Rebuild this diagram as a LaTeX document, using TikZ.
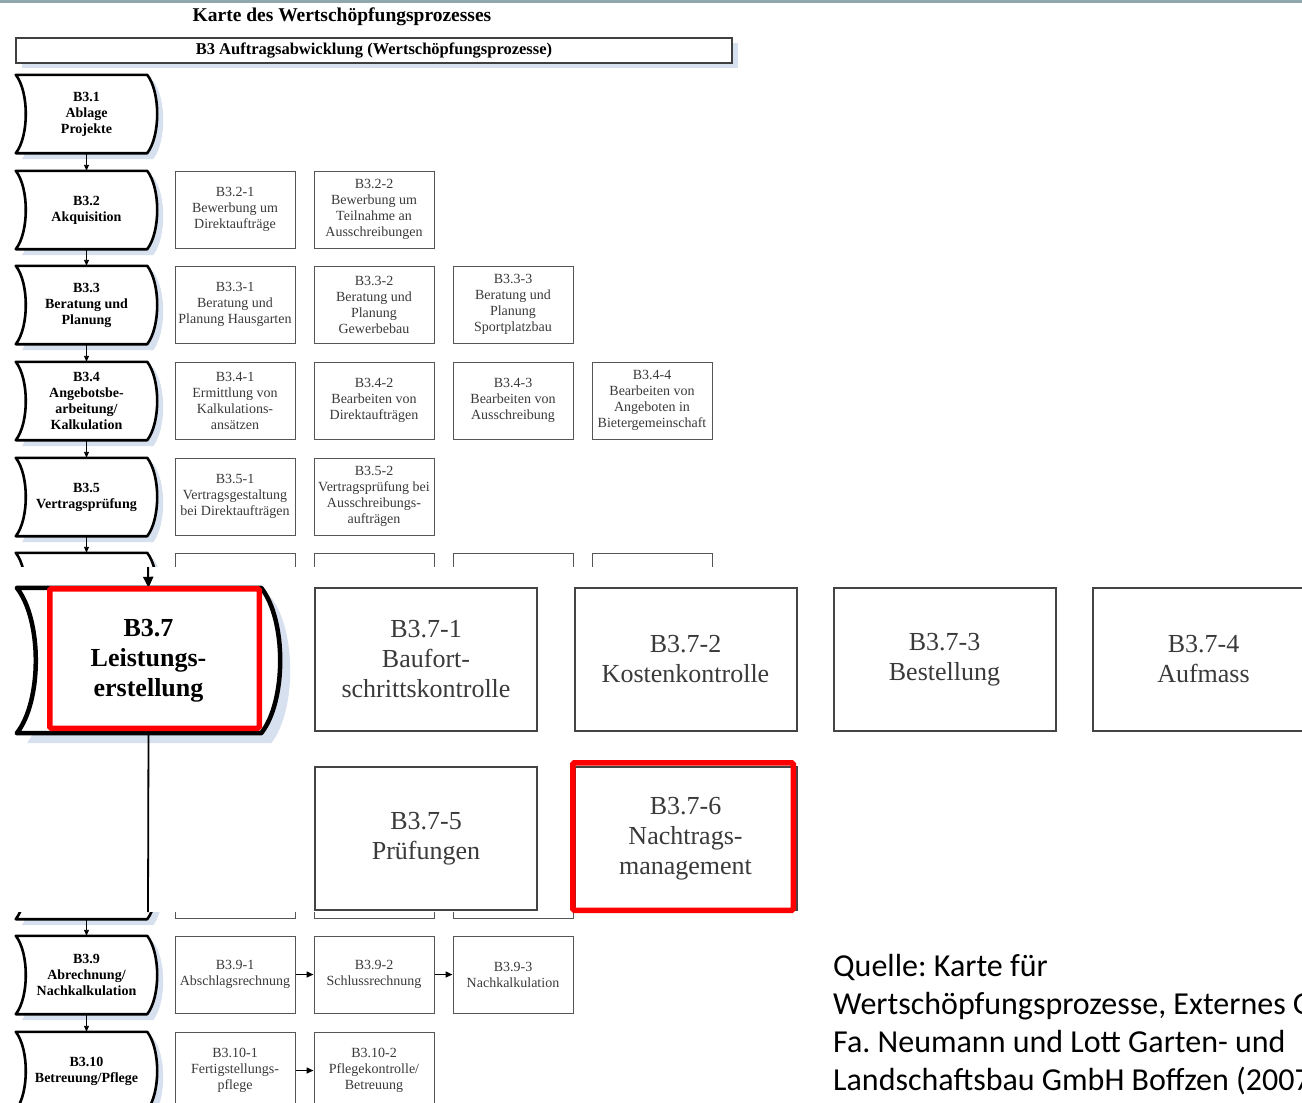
\documentclass[tikz,border=0pt]{standalone}
\usepackage{fontspec}
\setmainfont{Liberation Serif}
\newfontfamily\srcfont{Carlito}
\usetikzlibrary{arrows.meta,calc}
\frenchspacing

\definecolor{shadowblue}{HTML}{D6E0EF}
\definecolor{subgray}{HTML}{555555}
\definecolor{subtext}{HTML}{3A3A3A}
\definecolor{topbar}{HTML}{8EA8AC}
\definecolor{marker}{HTML}{FF0000}

% outline of a process step: straight top and bottom, both sides bowed to the right
\newcommand\procpathof[2]{(#1.north west) -- ($(#1.north east)+(-#2,0)$)
  .. controls ($(#1.north east)!0.22!(#1.south east)+(#2/3,0)$) and ($(#1.north east)!0.78!(#1.south east)+(#2/3,0)$) .. ($(#1.south east)+(-#2,0)$)
  -- (#1.south west)
  .. controls ($(#1.south west)!0.22!(#1.north west)+(4*#2/3,0)$) and ($(#1.south west)!0.78!(#1.north west)+(4*#2/3,0)$) .. cycle}
% shadow + outline of a process step node
\newcommand\procoutline[4]{%
  \fill[shadowblue, transform canvas={shift={(#4,#4)}}] \procpathof{#1}{#2};
  \filldraw[fill=white, draw=black, line width=#3, line join=round] \procpathof{#1}{#2};}

\tikzset{
  proc/.style={minimum width=141, minimum height=78, inner sep=0, align=center,
    font=\fontsize{14}{16}\selectfont\bfseries},
  sub/.style={draw=subgray, fill=white, line width=1, minimum width=120, minimum height=77,
    inner sep=0, align=center, text=subtext, font=\fontsize{14}{16}\selectfont},
  flow/.style={-{Triangle[length=6,width=5]}, line width=0.9},
  hflow/.style={-{Triangle[length=7,width=6]}, line width=1.5},
  zproc/.style={minimum width=263, minimum height=145, inner sep=0, align=center,
    font=\fontsize{26}{30}\selectfont\bfseries},
  zsub/.style={draw=subgray!80!black, fill=white, line width=2, minimum width=222, minimum height=143,
    inner sep=0, align=center, text=subtext, font=\fontsize{26}{30}\selectfont},
  zflow/.style={-{Triangle[length=11,width=10]}, line width=2},
  hl/.style={draw=marker, line width=5.5, rounded corners=1.5, inner sep=0},
}

\begin{document}
\begin{tikzpicture}[x=1pt,y=-1pt]
\useasboundingbox (0,0) rectangle (1302,1103);
\clip (0,0) rectangle (1302,1103);
\fill[white] (0,0) rectangle (1302,1103);
\fill[topbar] (0,0) rectangle (1302,2.5);

% heading
\node[font=\fontsize{19.5}{22}\selectfont\bfseries] (title) at (342,17) {Karte des Wertschöpfungsprozesses};
\fill[shadowblue] (22,43) rectangle (738,68);
\node[draw=black!75, fill=white, line width=1.2, minimum width=716, minimum height=25, inner sep=0,
  font=\fontsize{16.5}{18}\selectfont\bfseries] (head) at (374,50.5) {B3 Auftragsabwicklung (Wertschöpfungsprozesse)};

% process steps (left column)
\node[proc] (p1) at (86.5,114) {};
\node[proc] (p2) at (86.5,210) {};
\node[proc] (p3) at (86.5,305) {};
\node[proc] (p4) at (86.5,401) {};
\node[proc] (p5) at (86.5,497) {};
\node[proc] (p6) at (86.5,592) {};
\node[proc] (p8) at (86.5,880) {};
\node[proc] (p9) at (86.5,975) {};
\node[proc] (p10) at (86.5,1071) {};
\foreach \n in {p1,p2,p3,p4,p5,p6,p8,p9,p10} {\procoutline{\n}{10}{2.6}{6}}
\node[proc] (t1) at (p1) {B3.1\\Ablage\\Projekte};
\node[proc] (t2) at (p2) {B3.2\\Akquisition};
\node[proc] (t3) at (p3) {B3.3\\Beratung und\\Planung};
\node[proc] (t4) at (p4) {B3.4\\Angebotsbe-\\arbeitung/\\Kalkulation};
\node[proc] (t5) at (p5) {B3.5\\Vertragsprüfung};
\node[proc] (t9) at (p9) {B3.9\\Abrechnung/\\Nachkalkulation};
\node[proc] (t10) at (p10) {B3.10\\Betreuung/Pflege};

\draw[flow] (p1.south) -- (p2.north);
\draw[flow] (p2.south) -- (p3.north);
\draw[flow] (p3.south) -- (p4.north);
\draw[flow] (p4.south) -- (p5.north);
\draw[flow] (p5.south) -- (p6.north);
\draw[flow] (p8.south) -- (p9.north);
\draw[flow] (p9.south) -- (p10.north);

% sub-processes
\node[sub] (s21) at (235,209.5) {B3.2-1\\Bewerbung um\\Direktaufträge};
\node[sub] (s22) at (374,209.5) {B3.2-2\\Bewerbung um\\Teilnahme an\\Ausschreibungen};
\node[sub] (s31) at (235,304.5) {B3.3-1\\Beratung und\\Planung Hausgarten};
\node[sub] (s32) at (374,304.5) {B3.3-2\\Beratung und\\Planung\\Gewerbebau};
\node[sub] (s33) at (513,304.5) {B3.3-3\\Beratung und\\Planung\\Sportplatzbau};
\node[sub] (s41) at (235,400.5) {B3.4-1\\Ermittlung von\\Kalkulations-\\ansätzen};
\node[sub] (s42) at (374,400.5) {B3.4-2\\Bearbeiten von\\Direktaufträgen};
\node[sub] (s43) at (513,400.5) {B3.4-3\\Bearbeiten von\\Ausschreibung};
\node[sub] (s44) at (652,400.5) {B3.4-4\\Bearbeiten von\\Angeboten in\\Bietergemeinschaft};
\node[sub] (s51) at (235,496.5) {B3.5-1\\Vertragsgestaltung\\bei Direktaufträgen};
\node[sub] (s52) at (374,496.5) {B3.5-2\\Vertragsprüfung bei\\Ausschreibungs-\\aufträgen};
\node[sub] (s61) at (235,591.5) {};
\node[sub] (s62) at (374,591.5) {};
\node[sub] (s63) at (513,591.5) {};
\node[sub] (s64) at (652,591.5) {};
\node[sub] (s81) at (235,879.5) {};
\node[sub] (s82) at (374,879.5) {};
\node[sub] (s83) at (513,879.5) {};
\node[sub] (s91) at (235,974.5) {B3.9-1\\Abschlagsrechnung};
\node[sub] (s92) at (374,974.5) {B3.9-2\\Schlussrechnung};
\node[sub] (s93) at (513,974.5) {B3.9-3\\Nachkalkulation};
\node[sub] (s101) at (235,1070.5) {B3.10-1\\Fertigstellungs-\\pflege};
\node[sub] (s102) at (374,1070.5) {B3.10-2\\Pflegekontrolle/\\Betreuung};
\draw[hflow] (s91.east) -- (s92.west);
\draw[hflow] (s92.east) -- (s93.west);
\draw[hflow] (s101.east) -- (s102.west);

% enlarged detail of step B3.7
\fill[white] (0,567) rectangle (1302,912);
\node[zproc] (z7) at (148.5,660.5) {};
\procoutline{z7}{19}{4.5}{10}
\node[zproc] (z7t) at (z7) {B3.7\\Leistungs-\\erstellung};
\coordinate (zin) at (148,567);
\coordinate (zout) at (148,912);
\draw[zflow] (zin) -- (z7.north);
\draw[line width=1.8] (z7.south) -- (zout);

\node[zsub] (z71) at (426,659.5) {B3.7-1\\Baufort-\\schrittskontrolle};
\node[zsub] (z72) at (685.5,659.5) {B3.7-2\\Kostenkontrolle};
\node[zsub] (z73) at (944.5,659.5) {B3.7-3\\Bestellung};
\node[zsub] (z74) at (1203.5,659.5) {B3.7-4\\Aufmass};
\node[zsub] (z75) at (426,838.5) {B3.7-5\\Prüfungen};
\node[zsub] (z76) at (685.5,838.5) {B3.7-6\\Nachtrags-\\management};

% red highlight frames
\node[hl, minimum width=209.5, minimum height=139.5] (hl7) at (154.5,658.5) {};
\node[hl, minimum width=220.5, minimum height=147.5] (hl76) at (683,836.5) {};

% source note
\node[anchor=west, align=left, inner sep=0, font=\srcfont\fontsize{32}{38}\selectfont] (src) at (833,1025)
  {Quelle: Karte für\\Wertschöpfungsprozesse, Externes G\\Fa. Neumann und Lott Garten- und\\Landschaftsbau GmbH Boffzen (2007};
\end{tikzpicture}
\end{document}
